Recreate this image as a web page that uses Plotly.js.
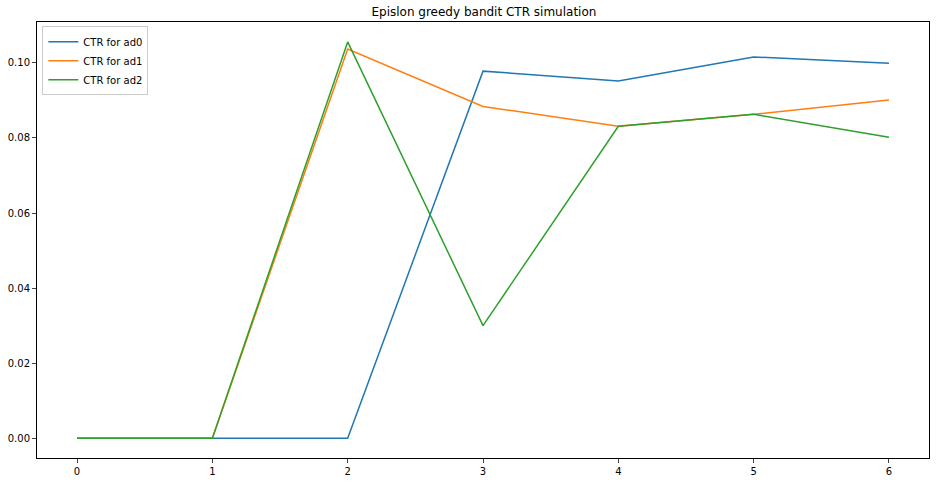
<!DOCTYPE html>
<html><head><meta charset="utf-8">
<script src="https://cdn.plot.ly/plotly-3.0.1.min.js"></script>
<style>body{margin:0;background:#fff}</style></head>
<body><div id="c" style="width:936px;height:482px"></div>
<script>
const steps=[0,1,2,3,4,5,6];
const ad0=[0,0,0,0.0978,0.0952,0.1016,0.0999];
const ad1=[0,0,0.1037,0.0884,0.0831,0.0863,0.0901];
const ad2=[0,0,0.1056,0.0300,0.0831,0.0863,0.0802];
const names=["CTR for ad0","CTR for ad1","CTR for ad2"];
const colors=["#1f77b4","#ff7f0e","#2ca02c"];
const data=[ad0,ad1,ad2].map((y,i)=>({x:steps,y:y,type:"scatter",mode:"lines",name:names[i],line:{color:colors[i],width:1.5}}));
Plotly.newPlot("c",data,{
 width:936,height:482,margin:{l:37,r:7,t:22,b:24},
 paper_bgcolor:"#fff",plot_bgcolor:"#fff",
 font:{family:"DejaVu Sans",size:10,color:"#000"},
 title:{text:"Epislon greedy bandit CTR simulation",font:{size:12},x:0.517,xanchor:"center",y:0.975,yanchor:"middle"},
 xaxis:{range:[-0.296,6.296],tickvals:steps,showgrid:false,zeroline:false,showline:true,mirror:true,linecolor:"#000",linewidth:1,ticks:"outside",ticklen:4},
 yaxis:{range:[-0.00528,0.1109],tickvals:[0,0.02,0.04,0.06,0.08,0.1],ticktext:["0.00","0.02","0.04","0.06","0.08","0.10"],showgrid:false,zeroline:false,showline:true,mirror:true,linecolor:"#000",linewidth:1,ticks:"outside",ticklen:4},
 legend:{x:0.006,y:0.99,xanchor:"left",yanchor:"top",bordercolor:"#ccc",borderwidth:1,bgcolor:"rgba(255,255,255,0.8)",font:{size:10}},
 showlegend:true
},{displayModeBar:false});
</script></body></html>
